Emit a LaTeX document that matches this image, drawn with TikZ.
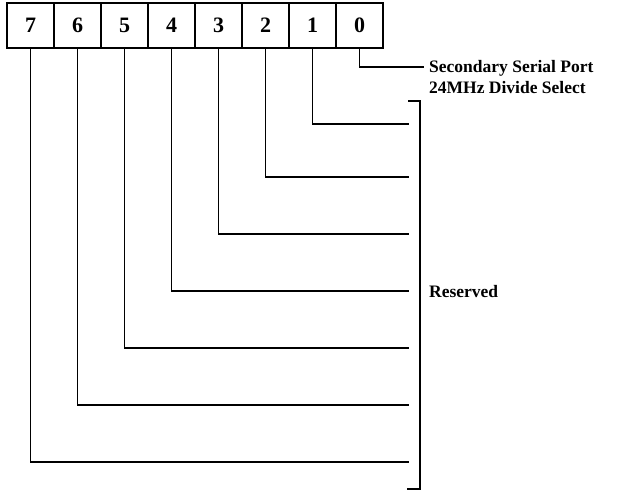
\documentclass[tikz,border=0pt]{standalone}
\usepackage{fontspec}
\setmainfont{Liberation Serif}
\begin{document}
\begin{tikzpicture}[x=1pt,y=-1pt,
  cell/.style={draw,line width=1.8pt,minimum width=47pt,minimum height=45pt,inner sep=0pt,font=\fontsize{22}{24}\selectfont\bfseries},
  wire/.style={line width=1.3pt},
  lbl/.style={anchor=west,inner sep=0pt,font=\fontsize{17.5}{19}\selectfont\bfseries}]
\useasboundingbox (0,0) rectangle (619,491);
\foreach \b [count=\i from 0] in {7,6,5,4,3,2,1,0}{
  \node[cell] (c\b) at (30.5+47*\i,25.5) {\b};
}
\coordinate (e0) at (424,67);
\node[lbl] (ssp) at (429,68) {Secondary Serial Port};
\node[lbl] (div) at (429,88) {24MHz Divide Select};
\node[lbl] (res) at (429,292) {Reserved};
\draw[wire] (c0.south) |- (e0);
\foreach \b/\y in {1/124,2/177,3/234,4/291,5/348,6/405,7/462}{
  \coordinate (e\b) at (409,\y);
  \draw[wire] (c\b.south) |- (e\b);
}
\coordinate (bt) at (408,101);
\coordinate (bb) at (407,489);
\draw[wire] (bt) -| (420,489) -- (bb);
\end{tikzpicture}
\end{document}
